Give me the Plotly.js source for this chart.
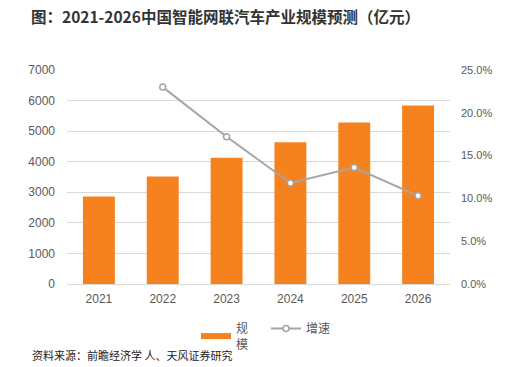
<!DOCTYPE html>
<html>
<head>
<meta charset="utf-8">
<script src="https://cdn.plot.ly/plotly-3.0.1.min.js"></script>
<style>html,body{margin:0;padding:0;background:#fff;}#chart{width:517px;height:367px;}</style>
</head>
<body>
<div id="chart"></div>
<script>
const years = ['2021', '2022', '2023', '2024', '2025', '2026'];
const scale = [2860, 3520, 4130, 4635, 5280, 5840];
const growthYears = ['2022', '2023', '2024', '2025', '2026'];
const growth = [0.230, 0.172, 0.118, 0.136, 0.103];
const leftTicks = [0, 1000, 2000, 3000, 4000, 5000, 6000, 7000];
const rightTicks = [0, 0.05, 0.10, 0.15, 0.20, 0.25];

const FONT = '"Liberation Sans", "Noto Sans CJK SC", Arial, sans-serif';
const CJK = '"Noto Sans CJK SC", "Liberation Sans", sans-serif';
const ORANGE = '#F5821F';

const traces = [
  {
    type: 'bar', x: years, y: scale, name: '规<br>模',
    marker: {color: ORANGE}, width: 0.5, yaxis: 'y', showlegend: false
  },
  {
    // legend entry for the bar series, drawn as a wide orange stroke like the reference
    type: 'scatter', mode: 'lines', x: [null], y: [null], name: '规<br>模',
    line: {color: ORANGE, width: 6}, yaxis: 'y', hoverinfo: 'skip'
  },
  {
    type: 'scatter', mode: 'lines+markers', x: growthYears, y: growth, name: '增速',
    yaxis: 'y2',
    line: {color: '#A5A5A5', width: 2},
    marker: {symbol: 'circle', size: 6, color: '#FFFFFF', line: {color: '#A5A5A5', width: 1.5}}
  }
];

const layout = {
  width: 517, height: 367,
  margin: {l: 67, r: 67, t: 70, b: 83},
  paper_bgcolor: '#FFFFFF', plot_bgcolor: '#FFFFFF',
  font: {family: FONT, size: 12, color: '#595959'},
  title: {
    text: '<b>图：2021-2026中国智能网联汽车产业规模预测（亿元）</b>',
    font: {family: CJK, size: 15.5, color: '#333333'},
    x: 31/517, xanchor: 'left', xref: 'container',
    y: 1 - 18/367, yanchor: 'middle', yref: 'container'
  },
  xaxis: {
    type: 'category', categoryorder: 'array', categoryarray: years,
    showgrid: false, zeroline: false, showline: false, ticks: '',
    ticklabelstandoff: 6,
    tickfont: {size: 12, color: '#595959'}
  },
  yaxis: {
    range: [0, 7000], tickvals: leftTicks, ticktext: leftTicks.map(String),
    showgrid: true, gridcolor: '#D9D9D9', gridwidth: 1,
    zeroline: true, zerolinecolor: '#D9D9D9', zerolinewidth: 1,
    showline: false, ticks: '', ticklabelstandoff: 11,
    tickfont: {size: 12, color: '#595959'}
  },
  yaxis2: {
    overlaying: 'y', side: 'right', range: [0, 0.25],
    tickvals: rightTicks, tickformat: '.1%',
    showgrid: false, zeroline: false, showline: false, ticks: '', ticklabelstandoff: 10,
    tickfont: {size: 11, color: '#595959'}
  },
  showlegend: true,
  legend: {
    orientation: 'h', x: 196/517, xanchor: 'left', xref: 'container',
    y: 1 - 314/367, yanchor: 'top', yref: 'container',
    font: {family: CJK, size: 12, color: '#595959'},
    traceorder: 'normal', itemwidth: 30, tracegroupgap: 0,
    entrywidth: 25, entrywidthmode: 'pixels'
  },
  annotations: [
    {
      text: '资料来源：前瞻经济学 人、天风证券研究',
      xref: 'paper', yref: 'paper',
      x: (30-67)/383, xanchor: 'left',
      y: (284-355)/214, yanchor: 'middle',
      showarrow: false,
      font: {family: CJK, size: 11, color: '#222222'}
    }
  ],
  bargap: 0.5
};

Plotly.newPlot('chart', traces, layout, {displayModeBar: false, staticPlot: true});
</script>
</body>
</html>
